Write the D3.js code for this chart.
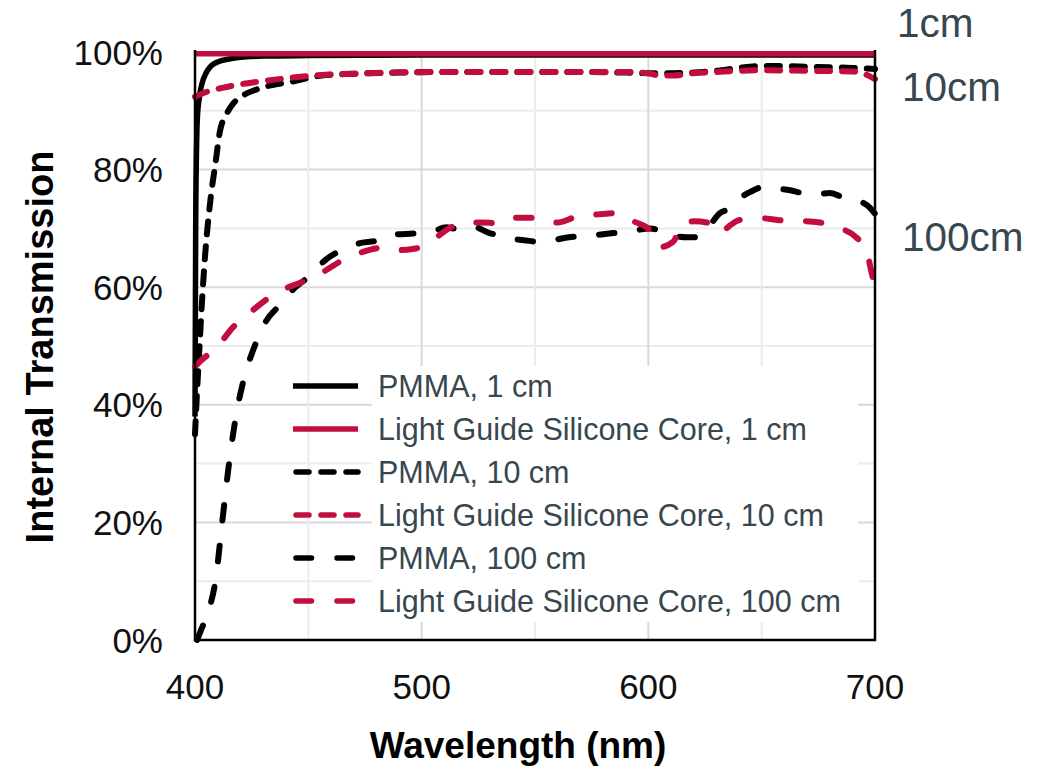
<!DOCTYPE html>
<html>
<head>
<meta charset="utf-8">
<script src="https://cdn.jsdelivr.net/npm/d3@7"></script>
<style>
  body { margin: 0; background: #fff; }
  svg { display: block; font-family: "Liberation Sans", Arial, sans-serif; }
</style>
</head>
<body>
<svg id="chart" width="1056" height="769"></svg>
<script>
// Internal transmission vs wavelength, PMMA vs light guide silicone core

const xTicks = [400, 500, 600, 700];
const yTicks = [0, 20, 40, 60, 80, 100];

const pmma1Nm  = [400, 400.3, 400.7, 401, 402, 403, 405, 407, 410, 415, 420, 430, 450, 500, 550, 600, 650, 700];
const pmma1Val = [38, 70, 84, 88.5, 92.5, 94.5, 96.5, 97.6, 98.3, 98.8, 99.1, 99.3, 99.4, 99.5, 99.5, 99.5, 99.5, 99.5];

const sil1Nm  = [400, 450, 500, 550, 600, 650, 700];
const sil1Val = [99.7, 99.7, 99.7, 99.7, 99.7, 99.7, 99.7];

const pmma10Nm  = [400, 401, 402, 403, 404, 405, 406, 407, 409, 411, 414, 417, 420, 423, 427, 432, 442, 456, 470, 490, 510, 530, 550, 570, 590, 600, 610, 620, 630, 640, 650, 660, 670, 680, 690, 700];
const pmma10Val = [35, 43, 50, 57, 63, 68, 72, 75.5, 81, 86.5, 89.5, 91.3, 92.3, 93, 93.6, 94.2, 94.9, 96, 96.3, 96.5, 96.6, 96.6, 96.6, 96.6, 96.5, 96.4, 96.4, 96.5, 96.8, 97.3, 97.6, 97.6, 97.5, 97.4, 97.3, 97.1];

const sil10Nm  = [400, 405, 412, 420, 427, 435, 442, 456, 470, 486, 511, 530, 550, 570, 590, 600, 605, 611, 620, 630, 640, 650, 670, 690, 695, 700];
const sil10Val = [92.4, 93.2, 93.9, 94.5, 94.9, 95.3, 95.6, 96.1, 96.3, 96.5, 96.6, 96.6, 96.6, 96.6, 96.6, 96.4, 96, 96, 96.4, 96.6, 96.8, 96.9, 96.8, 96.7, 96.3, 95.4];

const pmma100Nm  = [400.9, 403, 406, 409, 412, 415, 418.5, 421, 423.4, 427.4, 431, 437.5, 443, 450.7, 456.5, 467, 472.8, 481.6, 486, 499, 505, 511, 514, 522, 530, 533, 540, 545, 552, 558, 565, 575, 584.5, 592, 600.7, 606, 612, 617, 621.5, 626, 631.6, 636, 640, 645, 650.6, 656, 662.5, 668, 674, 680, 686, 690, 694, 697.8, 700];
const pmma100Val = [0, 2, 5, 10, 20, 30, 39, 43.5, 46.8, 51, 54, 57, 59.5, 62, 64.3, 66.7, 67.5, 68, 68.9, 69.2, 69.5, 70.2, 70, 70.4, 69.2, 68.9, 68.2, 68, 67.7, 68, 68.5, 68.8, 69.2, 69.5, 70, 69.5, 68.7, 68.5, 68.5, 70, 72.6, 73.4, 75, 76.2, 77, 76.8, 76.5, 76, 75.8, 76, 75.3, 75, 74.5, 73.5, 72.5];

const sil100Nm  = [400, 402, 409.7, 416.8, 424, 433, 440.6, 449.4, 456.5, 467, 474, 484.7, 490, 496, 501, 505, 508, 513, 518, 525.7, 534.6, 540, 552, 559.7, 568.5, 575.6, 586, 591.9, 596, 600.7, 605, 610.9, 615.3, 620, 625.9, 631.6, 636, 640, 648, 658, 665.6, 675.7, 683, 692, 696.5, 699, 700];
const sil100Val = [46.5, 47.3, 49.8, 53.2, 55.6, 58.3, 59.9, 61.2, 62.6, 65, 66, 66.8, 66.3, 66.5, 67, 68, 68.9, 70.2, 71, 71, 70.9, 71.8, 71.8, 71, 72, 72.3, 72.6, 71.4, 70.8, 69.7, 66.8, 67.7, 70.9, 71.2, 71, 69.2, 70.5, 71.4, 71.8, 71.4, 71.3, 71, 70.2, 68.4, 65.8, 61.7, 60.5];

const seriesNames = [
  "PMMA, 1 cm",
  "Light Guide Silicone Core, 1 cm",
  "PMMA, 10 cm",
  "Light Guide Silicone Core, 10 cm",
  "PMMA, 100 cm",
  "Light Guide Silicone Core, 100 cm"
];
const seriesNm  = [pmma1Nm, sil1Nm, pmma10Nm, sil10Nm, pmma100Nm, sil100Nm];
const seriesVal = [pmma1Val, sil1Val, pmma10Val, sil10Val, pmma100Val, sil100Val];

const sideLabels = ["1cm", "10cm", "100cm"];

const black = "#000", red = "#c20e3e";
const colors = [black, red, black, red, black, red];
const dashes = [null, null, "13,12", "13,12", "15.5,25.5", "15.5,25.5"];

const svg = d3.select("#chart");
const plotL = 195, plotR = 875, plotT = 52, plotB = 640;

const x = d3.scaleLinear().domain([400, 700]).range([plotL, plotR]);
const y = d3.scaleLinear().domain([0, 100]).range([plotB, plotT]);

// gridlines: minor every 10 % / 50 nm, major at labelled ticks
const grid = svg.append("g");
grid.selectAll(".gy")
  .data(d3.range(10, 101, 10))
  .join("line")
  .attr("x1", plotL).attr("x2", plotR)
  .attr("y1", d => y(d)).attr("y2", d => y(d))
  .attr("stroke", d => d % 20 === 0 ? "#d9d9d9" : "#ececec")
  .attr("stroke-width", 2);
grid.selectAll(".gx")
  .data(d3.range(450, 700, 50))
  .join("line")
  .attr("x1", d => x(d)).attr("x2", d => x(d))
  .attr("y1", plotT).attr("y2", plotB)
  .attr("stroke", d => d % 100 === 0 ? "#d9d9d9" : "#ececec")
  .attr("stroke-width", 2);

// curves
const line = d3.line()
  .x(d => x(d[0]))
  .y(d => y(d[1]))
  .curve(d3.curveMonotoneX);

seriesNames.forEach((name, i) => {
  const pts = seriesNm[i].map((nm, j) => [nm, seriesVal[i][j]]);
  svg.append("path")
    .datum(pts)
    .attr("d", line)
    .attr("fill", "none")
    .attr("stroke", colors[i])
    .attr("stroke-width", dashes[i] ? 6 : 5.5)
    .attr("stroke-linecap", dashes[i] ? "round" : "butt")
    .attr("stroke-dasharray", dashes[i]);
});

// axes frame
svg.append("line").attr("x1", plotL).attr("x2", plotL).attr("y1", plotT - 2).attr("y2", plotB + 1)
  .attr("stroke", "#000").attr("stroke-width", 2.5);
svg.append("line").attr("x1", plotR).attr("x2", plotR).attr("y1", plotT - 2).attr("y2", plotB + 1)
  .attr("stroke", "#000").attr("stroke-width", 2.5);
svg.append("line").attr("x1", plotL - 1).attr("x2", plotR + 1).attr("y1", plotB).attr("y2", plotB)
  .attr("stroke", "#000").attr("stroke-width", 2.5);

// tick labels
svg.append("g").selectAll("text")
  .data(yTicks)
  .join("text")
  .attr("x", 163)
  .attr("y", d => y(d))
  .attr("dy", "0.36em")
  .attr("text-anchor", "end")
  .attr("font-size", 35)
  .attr("fill", "#111")
  .text(d => d + "%");

svg.append("g").selectAll("text")
  .data(xTicks)
  .join("text")
  .attr("x", d => x(d))
  .attr("y", 699)
  .attr("text-anchor", "middle")
  .attr("font-size", 35)
  .attr("fill", "#111")
  .text(d => d);

// axis titles
svg.append("text")
  .attr("x", 518).attr("y", 758)
  .attr("text-anchor", "middle")
  .attr("font-size", 37).attr("font-weight", "bold")
  .text("Wavelength (nm)");

svg.append("text")
  .attr("transform", "translate(53,347) rotate(-90)")
  .attr("text-anchor", "middle")
  .attr("font-size", 38).attr("font-weight", "bold")
  .text("Internal Transmission");

// legend
svg.append("rect")
  .attr("x", 372).attr("y", 366)
  .attr("width", 486).attr("height", 256)
  .attr("fill", "#fff");

const legend = svg.append("g").selectAll("g")
  .data(seriesNames)
  .join("g")
  .attr("transform", (d, i) => `translate(0,${386 + i * 43})`);

legend.append("line")
  .attr("x1", (d, i) => dashes[i] ? 296 : 293)
  .attr("x2", 358)
  .attr("stroke", (d, i) => colors[i])
  .attr("stroke-width", 5.5)
  .attr("stroke-linecap", (d, i) => dashes[i] ? "round" : "butt")
  .attr("stroke-dasharray", (d, i) => dashes[i]);

legend.append("text")
  .attr("x", 378)
  .attr("dy", "0.36em")
  .attr("font-size", 30.5)
  .attr("fill", "#37474f")
  .text(d => d);

// path length labels on the right
svg.append("g").selectAll("text")
  .data(sideLabels)
  .join("text")
  .attr("x", (d, i) => i === 0 ? 897 : 902)
  .attr("y", (d, i) => [37, 101, 251][i])
  .attr("font-size", 40.5)
  .attr("fill", "#37474f")
  .text(d => d);
</script>
</body>
</html>
